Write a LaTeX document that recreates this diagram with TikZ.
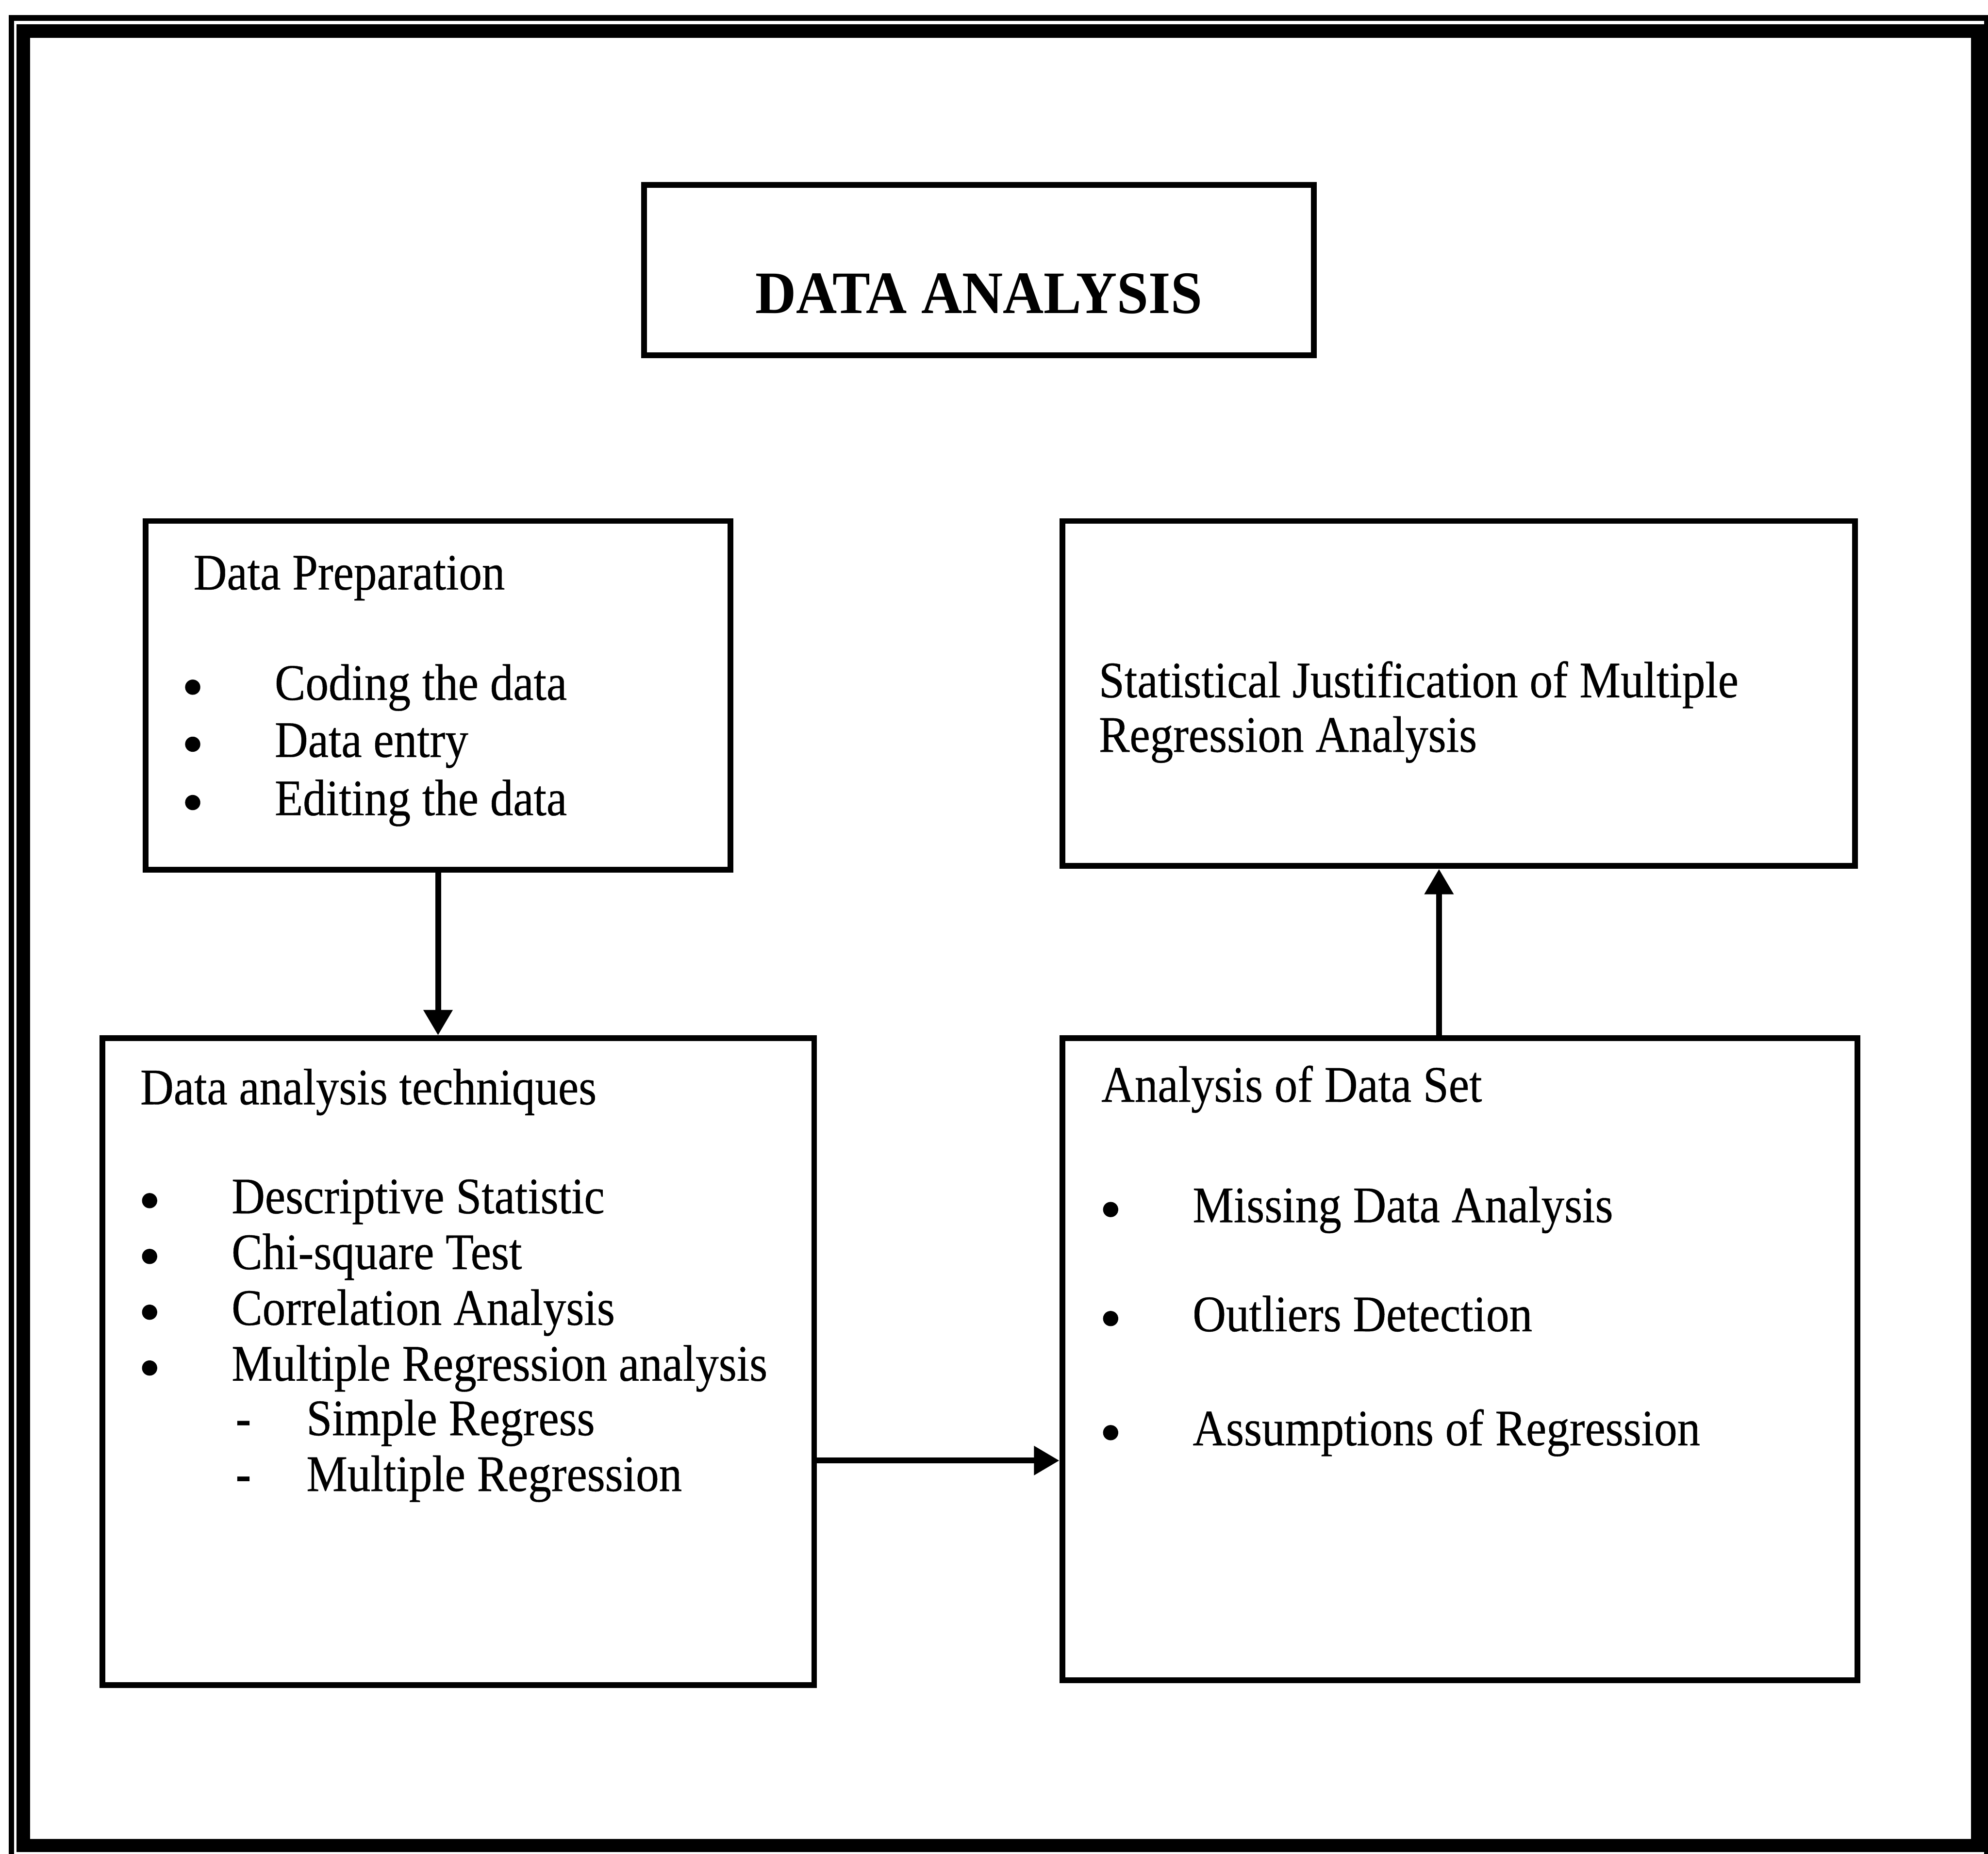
\documentclass[tikz,border=0pt]{standalone}
\usepackage{fontspec}
\setmainfont{Liberation Serif}
\newfontfamily\bodyf{Liberation Serif}[FakeStretch=0.9, FakeBold=0.4]
\newfontfamily\titlef{Liberation Serif}[FakeStretch=0.94]
\usetikzlibrary{arrows.meta}
\begin{document}
\begin{tikzpicture}[x=0.01cm,y=-0.01cm,
  box/.style={draw, line width=1.3pt, inner sep=0pt},
  txt/.style={anchor=base west, inner sep=0pt, font=\bodyf\fontsize{11.5}{13}\selectfont},
  dsh/.style={anchor=base, inner sep=0pt, font=\bodyf\bfseries\fontsize{11.5}{13}\selectfont},
  dot/.style={circle, fill, inner sep=0pt, minimum size=0.12cm},
  ttl/.style={anchor=base, inner sep=0pt, font=\titlef\bfseries\fontsize{13.5}{16}\selectfont},
  arr/.style={line width=1.3pt, -{Triangle[length=0.2cm, width=0.22cm]}}]
\useasboundingbox (0,0) rectangle (1568,1462);
\clip (0,0) rectangle (1568,1462);
% outer frame
\draw[line width=1.3pt] (9,1480) -- (9,14) -- (1567.3,14) -- (1567.3,1480);
\draw[line width=3pt] (18.4,24.4) rectangle (1560,1455.6);
% boxes
\node[box, minimum width=5.28cm, minimum height=1.34cm] (title) at (772,213) {};
\node[box, minimum width=4.61cm, minimum height=2.75cm] (prep) at (345.5,548.5) {};
\node[box, minimum width=6.25cm, minimum height=2.72cm] (stat) at (1150.5,547) {};
\node[box, minimum width=5.61cm, minimum height=5.10cm] (tech) at (361.5,1074) {};
\node[box, minimum width=6.27cm, minimum height=5.06cm] (ana) at (1151.5,1072) {};
% title
\node[ttl] (titletext) at (772,247) {DATA ANALYSIS};
% data preparation
\node[txt] (p0) at (152,465) {Data Preparation};
\node[dot] (pb1) at (152,542) {};
\node[txt] (p1) at (216,552) {Coding the data};
\node[dot] (pb2) at (152,587) {};
\node[txt] (p2) at (216,597) {Data entry};
\node[dot] (pb3) at (152,633) {};
\node[txt] (p3) at (216,643) {Editing the data};
% statistical justification
\node[txt] (s1) at (866,550) {Statistical Justification of Multiple};
\node[txt] (s2) at (866,593) {Regression Analysis};
% techniques
\node[txt] (t0) at (110,871) {Data analysis techniques};
\node[dot] (tb1) at (118,947) {};
\node[txt] (t1) at (182,957) {Descriptive Statistic};
\node[dot] (tb2) at (118,991) {};
\node[txt] (t2) at (182,1001) {Chi-square Test};
\node[dot] (tb3) at (118,1035) {};
\node[txt] (t3) at (182,1045) {Correlation Analysis};
\node[dot] (tb4) at (118,1079) {};
\node[txt] (t4) at (182,1089) {Multiple Regression analysis};
\node[dsh] (td1) at (192,1132) {-};
\node[txt] (t5) at (241,1132) {Simple Regress};
\node[dsh] (td2) at (192,1176) {-};
\node[txt] (t6) at (241,1176) {Multiple Regression};
% analysis of data set
\node[txt] (a0) at (868,869) {Analysis of Data Set};
\node[dot] (ab1) at (876,954) {};
\node[txt] (a1) at (940,964) {Missing Data Analysis};
\node[dot] (ab2) at (876,1040) {};
\node[txt] (a2) at (940,1050) {Outliers Detection};
\node[dot] (ab3) at (876,1130) {};
\node[txt] (a3) at (940,1140) {Assumptions of Regression};
% connectors
\coordinate (upx) at (1135,0);
\coordinate (hy) at (0,1152);
\draw[arr] (prep.south) -- (prep.south |- tech.north);
\draw[arr] (upx |- ana.north) -- (upx |- stat.south);
\draw[arr] (tech.east |- hy) -- (ana.west |- hy);
\end{tikzpicture}
\end{document}
